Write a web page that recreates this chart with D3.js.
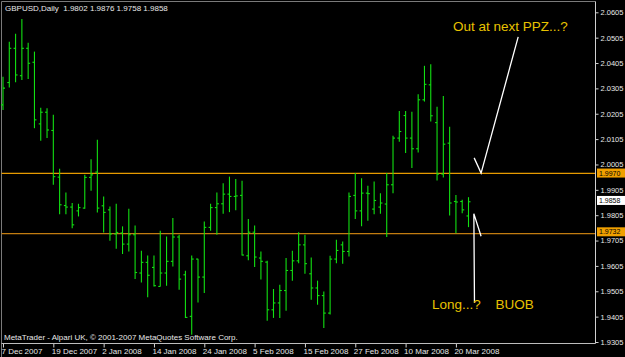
<!DOCTYPE html>
<html><head><meta charset="utf-8">
<script src="https://cdn.jsdelivr.net/npm/d3@7"></script>
<style>html,body{margin:0;padding:0;background:#000;overflow:hidden}</style>
</head><body><svg id="c" width="625" height="357"></svg>
<script>
// ---- data (GBPUSD daily) ----
const dates = ["7 Dec 2007","10 Dec 2007","11 Dec 2007","12 Dec 2007","13 Dec 2007","14 Dec 2007","17 Dec 2007","18 Dec 2007",
"19 Dec 2007","20 Dec 2007","21 Dec 2007","24 Dec 2007","26 Dec 2007","27 Dec 2007","28 Dec 2007","31 Dec 2007",
"2 Jan 2008","3 Jan 2008","4 Jan 2008","7 Jan 2008","8 Jan 2008","9 Jan 2008","10 Jan 2008","11 Jan 2008",
"14 Jan 2008","15 Jan 2008","16 Jan 2008","17 Jan 2008","18 Jan 2008","21 Jan 2008","22 Jan 2008","23 Jan 2008",
"24 Jan 2008","25 Jan 2008","28 Jan 2008","29 Jan 2008","30 Jan 2008","31 Jan 2008","1 Feb 2008","4 Feb 2008",
"5 Feb 2008","6 Feb 2008","7 Feb 2008","8 Feb 2008","11 Feb 2008","12 Feb 2008","13 Feb 2008","14 Feb 2008",
"15 Feb 2008","18 Feb 2008","19 Feb 2008","20 Feb 2008","21 Feb 2008","22 Feb 2008","25 Feb 2008","26 Feb 2008",
"27 Feb 2008","28 Feb 2008","29 Feb 2008","3 Mar 2008","4 Mar 2008","5 Mar 2008","6 Mar 2008","7 Mar 2008",
"10 Mar 2008","11 Mar 2008","12 Mar 2008","13 Mar 2008","14 Mar 2008","17 Mar 2008","18 Mar 2008","19 Mar 2008",
"20 Mar 2008","21 Mar 2008","24 Mar 2008"];

const open = [2.0240,2.0328,2.0463,2.0355,2.0463,2.0408,2.0165,2.0211,
2.0139,1.9955,1.9843,1.9837,1.9822,1.9833,1.9954,1.9975,
1.9842,1.9826,1.9731,1.9735,1.9691,1.9728,1.9577,1.9619,
1.9599,1.9524,1.9577,1.9623,1.9719,1.9570,1.9406,1.9632,
1.9561,1.9757,1.9835,1.9850,1.9888,1.9879,1.9883,1.9645,
1.9738,1.9636,1.9620,1.9432,1.9459,1.9508,1.9587,1.9625,
1.9688,1.9574,1.9518,1.9488,1.9419,1.9632,1.9688,1.9662,
1.9883,1.9822,1.9892,1.9829,1.9837,1.9849,1.9925,2.0109,
2.0198,2.0109,2.0067,2.0260,2.0319,2.0170,1.9967,2.0089,
1.9859,1.9859,1.9802];

const high = [2.0351,2.0489,2.0520,2.0579,2.0485,2.0450,2.0229,2.0227,
2.0201,1.9988,1.9894,1.9853,1.9850,1.9964,2.0026,2.0102,
1.9879,1.9839,1.9850,1.9761,1.9830,1.9764,1.9665,1.9646,
1.9646,1.9744,1.9721,1.9794,1.9728,1.9586,1.9646,1.9633,
1.9780,1.9850,1.9894,1.9931,1.9957,1.9948,1.9941,1.9790,
1.9764,1.9662,1.9625,1.9514,1.9531,1.9636,1.9665,1.9738,
1.9728,1.9638,1.9547,1.9504,1.9645,1.9708,1.9701,1.9894,
1.9971,1.9951,1.9921,1.9938,1.9892,1.9971,2.0118,2.0216,
2.0216,2.0213,2.0282,2.0394,2.0400,2.0233,2.0275,2.0154,
1.9885,1.9866,1.9876];

const low = [2.0220,2.0308,2.0329,2.0338,2.0342,2.0148,2.0099,2.0109,
1.9925,1.9809,1.9809,1.9754,1.9800,1.9830,1.9901,1.9816,
1.9737,1.9704,1.9673,1.9652,1.9662,1.9553,1.9540,1.9481,
1.9524,1.9524,1.9527,1.9603,1.9511,1.9400,1.9334,1.9461,
1.9498,1.9744,1.9728,1.9811,1.9817,1.9824,1.9646,1.9627,
1.9601,1.9551,1.9389,1.9400,1.9400,1.9428,1.9547,1.9616,
1.9574,1.9472,1.9452,1.9360,1.9413,1.9616,1.9614,1.9642,
1.9790,1.9761,1.9783,1.9809,1.9811,1.9719,1.9892,2.0095,
2.0050,1.9991,2.0052,2.0253,2.0174,1.9942,1.9954,1.9804,
1.9734,1.9813,1.9758];

const close = [2.0306,2.0463,2.0358,2.0463,2.0404,2.0181,2.0211,2.0141,
1.9957,1.9846,1.9837,1.9767,1.9835,1.9954,1.9964,1.9833,
1.9816,1.9731,1.9737,1.9691,1.9728,1.9579,1.9619,1.9568,
1.9527,1.9577,1.9623,1.9719,1.9553,1.9402,1.9632,1.9561,
1.9757,1.9835,1.9850,1.9888,1.9879,1.9881,1.9648,1.9738,
1.9640,1.9623,1.9432,1.9459,1.9508,1.9587,1.9625,1.9688,
1.9614,1.9518,1.9488,1.9419,1.9632,1.9666,1.9662,1.9879,
1.9822,1.9892,1.9890,1.9863,1.9853,1.9925,2.0109,2.0135,
2.0109,2.0067,2.0260,2.0321,2.0197,1.9967,2.0085,1.9853,
1.9857,1.9826,1.9858];

const xTickLabels = ["7 Dec 2007","19 Dec 2007","2 Jan 2008","14 Jan 2008","24 Jan 2008","5 Feb 2008","15 Feb 2008","27 Feb 2008","10 Mar 2008","20 Mar 2008"];
const yTicks = [2.0605,2.0505,2.0405,2.0305,2.0205,2.0105,2.0005,1.9905,1.9805,1.9705,1.9605,1.9505,1.9405,1.9305];
const levels = [1.9970, 1.9732];
const lastPrice = 1.9858;
const title = "GBPUSD,Daily  1.9802 1.9876 1.9758 1.9858";
const footer = "MetaTrader - Alpari UK, \u00A9 2001-2007 MetaQuotes Software Corp.";

// ---- scales ----
const svg = d3.select("#c");
const W = 625, H = 357;
const plotL = 1.5, plotR = 595.5, plotT = 1.5, plotB = 343.5;
const FONT = "Liberation Sans, Arial, sans-serif";
const x = d3.scalePoint().domain(dates).range([3, 468.5]);
const xi = d3.scaleLinear().domain([0, dates.length - 1]).range([3, 468.5]); // for annotations beyond last bar
const y = d3.scaleLinear().domain([1.9305, 2.0605]).range([342, 12.3]);

svg.append("rect").attr("width", W).attr("height", H).attr("fill", "#000");

// frame
svg.append("line").attr("x1", plotL).attr("x2", plotR).attr("y1", plotT).attr("y2", plotT).attr("stroke", "#7a7a7a");
svg.append("line").attr("x1", plotL).attr("x2", plotL).attr("y1", plotT).attr("y2", H).attr("stroke", "#7a7a7a");

// levels
const levelColors = ["#e69a00", "#c27c10"];
levels.forEach((v, k) => {
  svg.append("line").attr("x1", plotL).attr("x2", plotR).attr("y1", y(v)).attr("y2", y(v))
    .attr("stroke", levelColors[k]).attr("stroke-width", 1.2);
});

// bars
const barColor = "#12e012";
const g = svg.append("g").attr("stroke", barColor).attr("stroke-width", 1.1);
dates.forEach((d, i) => {
  const cx = x(d);
  g.append("line").attr("x1", cx).attr("x2", cx).attr("y1", y(high[i])).attr("y2", y(low[i]));
  g.append("line").attr("x1", cx - 2).attr("x2", cx).attr("y1", y(open[i])).attr("y2", y(open[i]));
  g.append("line").attr("x1", cx).attr("x2", cx + 2).attr("y1", y(close[i])).attr("y2", y(close[i]));
});

// y axis
const yAxis = svg.append("g").attr("transform", `translate(${plotR},0)`)
  .call(d3.axisRight(y).tickValues(yTicks).tickSize(3).tickPadding(2).tickFormat(d3.format(".4f")));
yAxis.select(".domain").remove();
yAxis.selectAll("line").attr("stroke", "#d0d0d0");
yAxis.selectAll("text").attr("fill", "#e8e8e8").style("font-family", FONT).style("font-size", "7.5px");
svg.append("line").attr("x1", plotR).attr("x2", plotR).attr("y1", plotT).attr("y2", plotB).attr("stroke", "#cfcfcf");

// x axis
const xAxis = svg.append("g").attr("transform", `translate(0,${plotB})`)
  .call(d3.axisBottom(x).tickValues(xTickLabels).tickSize(4).tickPadding(1));
xAxis.select(".domain").remove();
xAxis.selectAll("line").attr("stroke", "#d0d0d0");
xAxis.selectAll("text").attr("fill", "#e8e8e8").attr("text-anchor", "start").attr("dx", -2)
  .style("font-family", FONT).style("font-size", "8px");
svg.append("line").attr("x1", plotL).attr("x2", plotR).attr("y1", plotB).attr("y2", plotB).attr("stroke", "#bdbdbd");

// price boxes (small vertical nudges keep them clear of neighbouring axis labels)
const boxes = [{v: levels[0], fill: "#f0a000", dy: 2.2}, {v: lastPrice, fill: "#ffffff", dy: 1.2}, {v: levels[1], fill: "#f0a000", dy: 0.6}];
boxes.forEach(b => {
  const yy = y(b.v);
  svg.append("rect").attr("x", plotR + 1.5).attr("y", yy + b.dy - 7).attr("width", 28).attr("height", 9).attr("fill", b.fill);
  svg.append("text").attr("x", plotR + 3.5).attr("y", yy + b.dy).text(d3.format(".4f")(b.v))
    .attr("fill", "#000").style("font-family", FONT).style("font-size", "7px");
});

// title & footer
svg.append("text").attr("x", 5).attr("y", 10.5).text(title).attr("xml:space", "preserve").style("white-space", "pre")
  .attr("fill", "#e8e8e8").style("font-family", FONT).style("font-size", "8px");
svg.append("text").attr("x", 4).attr("y", 340).text(footer)
  .attr("fill", "#e8e8e8").style("font-family", FONT).style("font-size", "8px");

// annotations (positioned in bar-index / price space)
const ann = svg.append("g").attr("stroke", "#ffffff").attr("stroke-width", 1.3).attr("fill", "none");
ann.append("path").attr("d", d3.line()([[xi(81.9), y(2.0508)], [xi(76.0), y(1.9971)], [xi(74.9), y(2.0031)]]));
ann.append("path").attr("d", d3.line()([[xi(74.95), y(1.9460)], [xi(74.85), y(1.9811)], [xi(76.0), y(1.9722)]]));

const gold = "#e8c200";
svg.append("text").attr("x", xi(71.55)).attr("y", y(2.0530)).text("Out at next PPZ...?")
  .attr("fill", gold).style("font-family", FONT).style("font-size", "13.5px");
svg.append("text").attr("x", xi(68.2)).attr("y", y(1.9436)).text("Long...?")
  .attr("fill", gold).style("font-family", FONT).style("font-size", "13.5px");
svg.append("text").attr("x", xi(78.3)).attr("y", y(1.9436)).text("BUOB")
  .attr("fill", gold).style("font-family", FONT).style("font-size", "13.5px");
</script></body></html>
